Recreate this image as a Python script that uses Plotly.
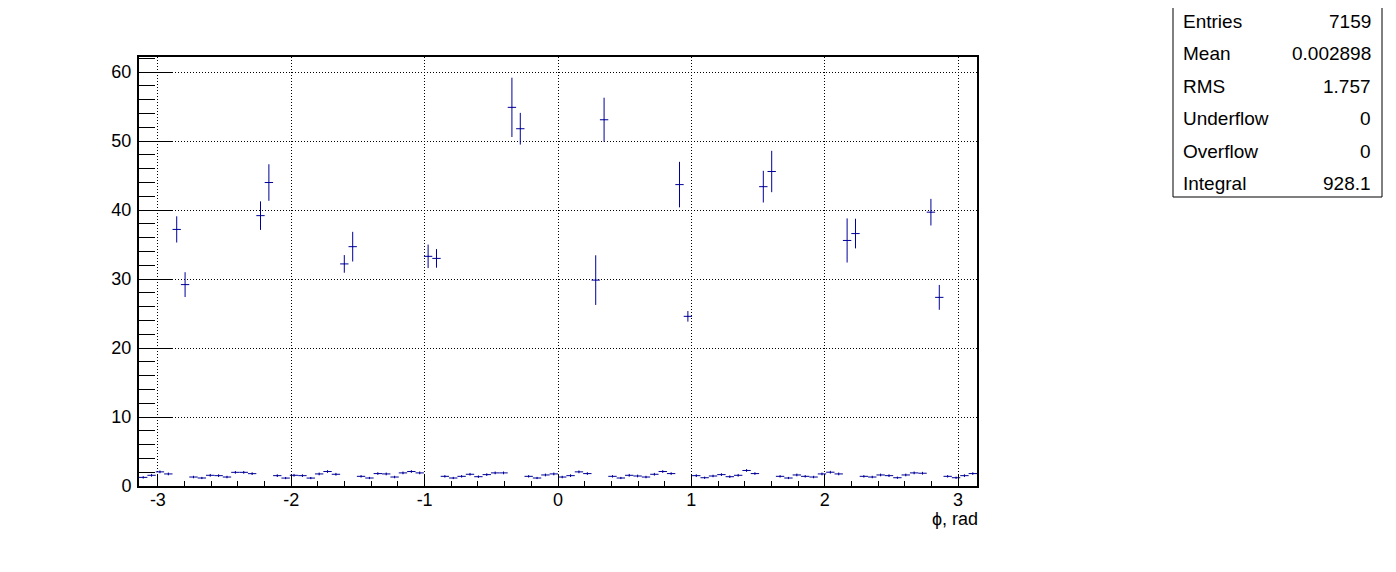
import numpy as np
import plotly.graph_objects as go

# ---- data: 100-bin histogram of phi in [-pi, pi] ----
n_bins = 100
counts = [
    1.25, 1.55, 2.05, 1.75, 37.2, 29.2, 1.30, 1.16, 1.55, 1.50,
    1.30, 1.98, 1.98, 1.79, 39.2, 44.0, 1.50, 1.15, 1.55, 1.50,
    1.15, 1.75, 2.10, 1.70, 32.2, 34.7, 1.40, 1.16, 1.80, 1.75,
    1.30, 1.90, 2.10, 1.90, 33.3, 33.0, 1.40, 1.16, 1.40, 1.70,
    1.35, 1.65, 1.90, 1.90, 54.9, 51.8, 1.40, 1.16, 1.60, 1.75,
    1.30, 1.50, 2.05, 1.80, 29.85, 53.1, 1.40, 1.16, 1.55, 1.45,
    1.30, 1.70, 2.10, 1.80, 43.7, 24.6, 1.50, 1.20, 1.45, 1.65,
    1.35, 1.55, 2.25, 1.80, 43.4, 45.6, 1.40, 1.16, 1.60, 1.40,
    1.30, 1.75, 2.00, 1.75, 35.6, 36.6, 1.40, 1.30, 1.60, 1.50,
    1.20, 1.60, 1.90, 1.85, 39.7, 27.35, 1.40, 1.20, 1.50, 1.80,
]
errors = [
    0.18, 0.2, 0.2, 0.2, 1.9, 1.8, 0.18, 0.16, 0.2, 0.2,
    0.18, 0.2, 0.2, 0.2, 2.07, 2.65, 0.2, 0.16, 0.2, 0.2,
    0.16, 0.2, 0.2, 0.2, 1.28, 2.15, 0.18, 0.16, 0.2, 0.2,
    0.18, 0.2, 0.2, 0.2, 1.7, 1.35, 0.18, 0.16, 0.18, 0.2,
    0.18, 0.2, 0.2, 0.2, 4.3, 2.3, 0.18, 0.16, 0.2, 0.2,
    0.18, 0.2, 0.2, 0.2, 3.6, 3.2, 0.18, 0.16, 0.2, 0.2,
    0.18, 0.2, 0.2, 0.2, 3.3, 0.77, 0.2, 0.16, 0.18, 0.2,
    0.18, 0.2, 0.2, 0.2, 2.3, 3.0, 0.18, 0.16, 0.2, 0.18,
    0.18, 0.2, 0.2, 0.2, 3.2, 2.15, 0.18, 0.18, 0.2, 0.2,
    0.16, 0.2, 0.2, 0.2, 1.93, 1.8, 0.18, 0.16, 0.2, 0.2,
]
x_tickvals = [-3, -2, -1, 0, 1, 2, 3]
x_ticktext = ["-3", "-2", "-1", "0", "1", "2", "3"]
y_tickvals = [0, 10, 20, 30, 40, 50, 60]
y_ticktext = ["0", "10", "20", "30", "40", "50", "60"]
stats_labels = ["Entries", "Mean", "RMS", "Underflow", "Overflow", "Integral"]
stats_values = ["7159", "0.002898", "1.757", "0", "0", "928.1"]
x_title = "ϕ, rad"

edges = np.linspace(-np.pi, np.pi, n_bins + 1)
centers = 0.5 * (edges[:-1] + edges[1:])
half_w = 0.5 * (edges[1] - edges[0])

COL = "#000099"
FONT = "Liberation Sans, Arial, Helvetica, sans-serif"

fig = go.Figure()
fig.add_trace(go.Scatter(
    x=centers, y=counts, mode="markers",
    marker=dict(size=1, color=COL),
    error_x=dict(type="constant", value=half_w, width=0, thickness=1, color=COL),
    error_y=dict(type="data", array=errors, visible=True, width=0, thickness=1, color=COL),
    showlegend=False, hoverinfo="x+y",
))

# page body has an 8px default margin, compensate for it
OFF = 8
L, R, T, B = 139, 977, 57, 486
W, H = 1396, 572

fig.update_layout(
    width=W - OFF, height=H - OFF,
    margin=dict(l=L - OFF, r=W - R, t=T - OFF, b=H - B, pad=0),
    paper_bgcolor="white", plot_bgcolor="white",
    font=dict(family=FONT, size=18, color="black"),
)
fig.update_xaxes(
    range=[-np.pi, np.pi], tickmode="array", tickvals=x_tickvals, ticktext=x_ticktext,
    ticks="inside", ticklen=11, tickwidth=1, tickcolor="black",
    minor=dict(ticks="inside", ticklen=5, dtick=0.2, tick0=0, tickcolor="black", tickwidth=1, showgrid=False),
    showgrid=True, gridcolor="black", griddash="1px,2px", gridwidth=1,
    showline=True, linecolor="black", linewidth=2, mirror=True,
    zeroline=False, tickfont=dict(size=18), ticklabelstandoff=-4,
)
fig.update_yaxes(
    range=[0, 62.2], tickmode="array", tickvals=y_tickvals, ticktext=y_ticktext,
    ticks="inside", ticklen=33, tickwidth=1, tickcolor="black",
    minor=dict(ticks="inside", ticklen=16, dtick=2, tick0=0, tickcolor="black", tickwidth=1, showgrid=False),
    showgrid=True, gridcolor="black", griddash="1px,2px", gridwidth=1,
    showline=True, linecolor="black", linewidth=2, mirror=True,
    zeroline=False, tickfont=dict(size=18), ticklabelstandoff=2,
)

fig.add_annotation(
    text=x_title, xref="paper", yref="paper", x=1, y=0,
    xanchor="right", yanchor="top", yshift=-21, xshift=3, showarrow=False,
    font=dict(size=18),
)

# stats box (positions in page pixels converted to paper fractions)
pw, ph = R - L, B - T
def px(xp):
    return (xp - L) / pw
def py(yp):
    return (B - yp) / ph

bx0, bx1, by0, by1 = 1173, 1382, 3, 197
fig.add_shape(type="rect", xref="paper", yref="paper",
              x0=px(bx0), x1=px(bx1), y0=py(by1), y1=py(by0),
              line=dict(color="black", width=1), fillcolor="white", layer="above")
row_h = (by1 - by0) / len(stats_labels)
for i, (lab, val) in enumerate(zip(stats_labels, stats_values)):
    yc = by0 + row_h * (i + 0.5) + 2.5
    fig.add_annotation(text=lab, xref="paper", yref="paper", x=px(1181), y=py(yc),
                       xanchor="left", yanchor="middle", showarrow=False, font=dict(size=19))
    fig.add_annotation(text=val, xref="paper", yref="paper", x=px(1373), y=py(yc),
                       xanchor="right", yanchor="middle", showarrow=False, font=dict(size=19))

fig.write_html("out.html")
